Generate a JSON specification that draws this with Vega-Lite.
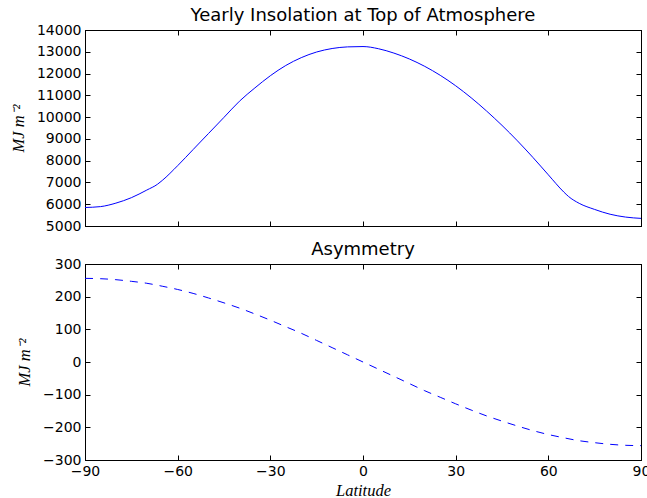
{
  "$schema": "https://vega.github.io/schema/vega-lite/v6.json",
  "padding": {"left": 9, "top": 6, "right": 0, "bottom": 0},
  "background": "white",
  "spacing": 6,
  "config": {
    "view": {"stroke": "#000", "strokeWidth": 1},
    "axis": {
      "grid": false, "domainColor": "#000", "domainWidth": 1, "tickColor": "#000", "tickWidth": 1,
      "tickSize": -5, "labelPadding": 9, "labelColor": "#000", "labelFont": "DejaVu Sans", "labelFontSize": 14,
      "labelFlush": false, "labelOverlap": false,
      "titleFont": "Liberation Serif", "titleFontStyle": "italic", "titleFontWeight": "normal", "titleFontSize": 16.5, "titleColor": "#000"
    },
    "title": {"font": "DejaVu Sans", "fontSize": 18, "fontWeight": "normal", "color": "#000", "offset": -2}
  },
  "datasets": {
    "insol": [
      {"lat": -90, "value": 5850}, {"lat": -85, "value": 5890}, {"lat": -80, "value": 6050}, {"lat": -75, "value": 6300},
      {"lat": -70, "value": 6650}, {"lat": -66.5, "value": 6920}, {"lat": -65, "value": 7090}, {"lat": -60, "value": 7770},
      {"lat": -55, "value": 8510}, {"lat": -50, "value": 9250}, {"lat": -45, "value": 9990}, {"lat": -40, "value": 10730},
      {"lat": -35, "value": 11340}, {"lat": -30, "value": 11900}, {"lat": -25, "value": 12370}, {"lat": -20, "value": 12730},
      {"lat": -15, "value": 12990}, {"lat": -10, "value": 13150}, {"lat": -5, "value": 13225}, {"lat": 0, "value": 13240},
      {"lat": 5, "value": 13140}, {"lat": 10, "value": 12940}, {"lat": 15, "value": 12670}, {"lat": 20, "value": 12330},
      {"lat": 25, "value": 11920}, {"lat": 30, "value": 11440}, {"lat": 35, "value": 10890}, {"lat": 40, "value": 10280},
      {"lat": 45, "value": 9620}, {"lat": 50, "value": 8910}, {"lat": 55, "value": 8150}, {"lat": 60, "value": 7350},
      {"lat": 65, "value": 6560}, {"lat": 66.5, "value": 6360}, {"lat": 70, "value": 6040}, {"lat": 75, "value": 5760},
      {"lat": 80, "value": 5540}, {"lat": 85, "value": 5410}, {"lat": 90, "value": 5350}
    ],
    "asym": [
      {"lat": -90, "value": 256}, {"lat": -85, "value": 255}, {"lat": -80, "value": 252}, {"lat": -75, "value": 247},
      {"lat": -70, "value": 241}, {"lat": -65, "value": 232}, {"lat": -60, "value": 222}, {"lat": -55, "value": 210},
      {"lat": -50, "value": 196}, {"lat": -45, "value": 181}, {"lat": -40, "value": 165}, {"lat": -35, "value": 147},
      {"lat": -30, "value": 128}, {"lat": -25, "value": 108}, {"lat": -20, "value": 88}, {"lat": -15, "value": 66},
      {"lat": -10, "value": 44}, {"lat": -5, "value": 22}, {"lat": 0, "value": 0}, {"lat": 5, "value": -22},
      {"lat": 10, "value": -44}, {"lat": 15, "value": -66}, {"lat": 20, "value": -88}, {"lat": 25, "value": -108},
      {"lat": 30, "value": -128}, {"lat": 35, "value": -147}, {"lat": 40, "value": -165}, {"lat": 45, "value": -181},
      {"lat": 50, "value": -196}, {"lat": 55, "value": -210}, {"lat": 60, "value": -222}, {"lat": 65, "value": -232},
      {"lat": 70, "value": -241}, {"lat": 75, "value": -247}, {"lat": 80, "value": -252}, {"lat": 85, "value": -255},
      {"lat": 90, "value": -256}
    ]
  },
  "vconcat": [
    {
      "title": "Yearly Insolation at Top of Atmosphere",
      "width": 556, "height": 196,
      "data": {"name": "insol"},
      "layer": [
        {
          "mark": {"type": "line", "color": "#0000ff", "strokeWidth": 1, "interpolate": "monotone"},
          "encoding": {
            "x": {"field": "lat", "type": "quantitative", "scale": {"domain": [-90, 90], "nice": false},
                  "axis": {"orient": "bottom", "labels": false, "title": null, "values": [-90, -60, -30, 0, 30, 60, 90]}},
            "y": {"field": "value", "type": "quantitative", "scale": {"domain": [5000, 14000], "nice": false, "zero": false},
                  "axis": {"orient": "left", "title": "MJ m⁻²", "titlePadding": 10,
                           "values": [5000, 6000, 7000, 8000, 9000, 10000, 11000, 12000, 13000, 14000], "format": "d"}}
          }
        },
        {
          "mark": {"type": "line", "opacity": 0},
          "encoding": {
            "x": {"field": "lat", "type": "quantitative", "axis": {"orient": "top", "labels": false, "title": null, "values": [-90, -60, -30, 0, 30, 60, 90]}},
            "y": {"field": "value", "type": "quantitative", "axis": {"orient": "right", "labels": false, "title": null,
                  "values": [5000, 6000, 7000, 8000, 9000, 10000, 11000, 12000, 13000, 14000]}}
          }
        }
      ],
      "resolve": {"axis": {"x": "independent", "y": "independent"}}
    },
    {
      "title": "Asymmetry",
      "width": 556, "height": 196,
      "data": {"name": "asym"},
      "layer": [
        {
          "mark": {"type": "line", "color": "#0000ff", "strokeWidth": 1, "strokeDash": [8, 7], "interpolate": "monotone"},
          "encoding": {
            "x": {"field": "lat", "type": "quantitative", "scale": {"domain": [-90, 90], "nice": false},
                  "axis": {"orient": "bottom", "title": "Latitude", "titlePadding": 4, "values": [-90, -60, -30, 0, 30, 60, 90]}},
            "y": {"field": "value", "type": "quantitative", "scale": {"domain": [-300, 300], "nice": false},
                  "axis": {"orient": "left", "title": "MJ m⁻²", "titlePadding": 10,
                           "values": [-300, -200, -100, 0, 100, 200, 300]}}
          }
        },
        {
          "mark": {"type": "line", "opacity": 0},
          "encoding": {
            "x": {"field": "lat", "type": "quantitative", "axis": {"orient": "top", "labels": false, "title": null, "values": [-90, -60, -30, 0, 30, 60, 90]}},
            "y": {"field": "value", "type": "quantitative", "axis": {"orient": "right", "labels": false, "title": null,
                  "values": [-300, -200, -100, 0, 100, 200, 300]}}
          }
        }
      ],
      "resolve": {"axis": {"x": "independent", "y": "independent"}}
    }
  ]
}
